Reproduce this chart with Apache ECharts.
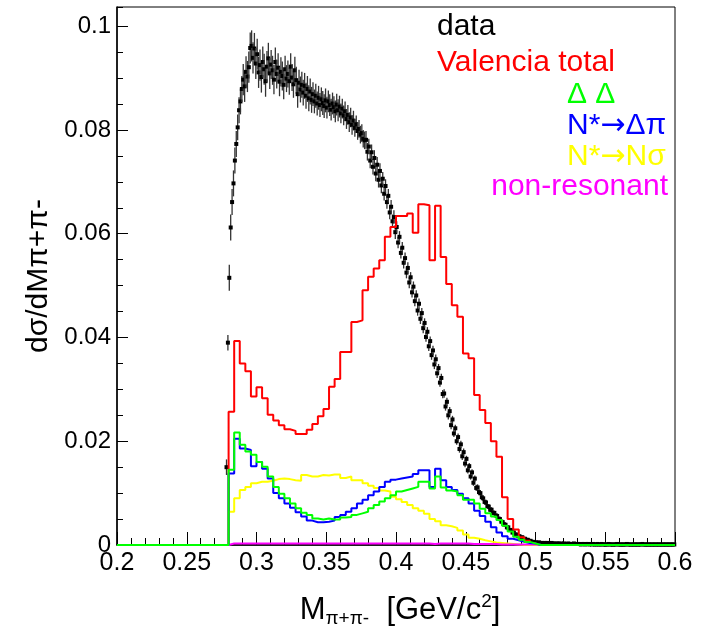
<!DOCTYPE html>
<html>
<head>
<meta charset="utf-8">
<script src="https://cdn.jsdelivr.net/npm/echarts@6/dist/echarts.min.js"></script>
<style>
html,body{margin:0;padding:0;background:#fff;}
#chart{width:704px;height:639px;}
</style>
</head>
<body>
<div id="chart"></div>
<script>
// ---------------- DATA ----------------
const xTickLabels = ['0.2','0.25','0.3','0.35','0.4','0.45','0.5','0.55','0.6'];
const yTickLabels = ['0','0.02','0.04','0.06','0.08','0.1'];

// histogram binning of the model curves (0.2 .. 0.6, 100 bins); model arrays start at bin 0.280
const histMin = 0.2, histMax = 0.6, histBins = 100, modelFirstBin = 20;

// Valencia total (red)
const valenciaTotal = [0.0257,0.0393,0.0350,0.0335,0.0286,0.0304,0.0283,0.0251,0.0240,0.0231,
 0.0223,0.0220,0.0214,0.0214,0.0222,0.0233,0.0248,0.0262,0.0305,0.0320,
 0.0372,0.0372,0.0430,0.0433,0.0491,0.0517,0.0533,0.0549,0.0594,0.0613,
 0.0634,0.0634,0.0639,0.0602,0.0657,0.0655,0.0549,0.0654,0.0555,0.0503,
 0.0462,0.0440,0.0369,0.0360,0.0289,0.0260,0.0235,0.0200,0.0170,0.0092,
 0.0050,0.0030,0.0015,0.0008,0.0004];
// Delta Delta (green)
const deltaDelta = [0.0145,0.0217,0.0193,0.0180,0.0174,0.0160,0.0151,0.0132,0.0112,0.0099,
 0.0090,0.0080,0.0071,0.0062,0.0058,0.0051,0.0049,0.0051,0.0049,0.0049,
 0.0053,0.0054,0.0058,0.0061,0.0064,0.0071,0.0077,0.0084,0.0090,0.0096,
 0.0103,0.0106,0.0109,0.0112,0.0122,0.0122,0.0109,0.0132,0.0111,0.0105,
 0.0103,0.0096,0.0087,0.0087,0.0080,0.0070,0.0061,0.0055,0.0048,0.0037,
 0.0026,0.0016,0.0010,0.0006,0.0003];
// N* -> Delta pi (blue)
const nStarDeltaPi = [0.0138,0.0205,0.0186,0.0183,0.0152,0.0160,0.0147,0.0128,0.0100,0.0090,
 0.0080,0.0072,0.0063,0.0055,0.0047,0.0044,0.0044,0.0045,0.0047,0.0054,
 0.0058,0.0064,0.0071,0.0080,0.0087,0.0096,0.0103,0.0112,0.0122,0.0126,
 0.0128,0.0130,0.0132,0.0137,0.0144,0.0144,0.0112,0.0147,0.0125,0.0112,
 0.0106,0.0099,0.0090,0.0080,0.0066,0.0056,0.0045,0.0034,0.0024,0.0017,
 0.0012,0.0009,0.0006,0.0004,0.0003];
// N* -> N sigma (yellow)
const nStarNSigma = [0.0064,0.0090,0.0106,0.0112,0.0119,0.0122,0.0122,0.0124,0.0127,0.0128,
 0.0127,0.0125,0.0124,0.0135,0.0132,0.0132,0.0135,0.0134,0.0136,0.0136,
 0.0129,0.0132,0.0125,0.0125,0.0119,0.0114,0.0110,0.0105,0.0103,0.0093,
 0.0088,0.0083,0.0077,0.0071,0.0066,0.0060,0.0050,0.0046,0.0038,0.0036,
 0.0033,0.0028,0.0020,0.0014,0.0012,0.0009,0.0007,0.0005,0.0004,0.0003,
 0.0002,0.0001,0,0,0];
// non-resonant (magenta)
const nonResonant = [0.0003,0.0003,0.0003,0.0003,0.0003,0.0003,0.0003,0.0003,0.0003,0.0003,
 0.0003,0.0003,0.0003,0.0003,0.0003,0.0003,0.0003,0.0003,0.0003,0.0003,
 0.0003,0.0003,0.0003,0.0003,0.0003,0.0003,0.0003,0.0003,0.0003,0.0003,
 0.0003,0.0003,0.0003,0.0003,0.0003,0.0003,0.0002,0.0003,0.0003,0.0003,
 0.0003,0.0003,0.0003,0.0002,0.0002,0.0002,0.0002,0.0002,0.0001,0.0001,
 0.0001,0.0001,0.0001,0.0001,0.0001];

// measured data, 0.001 wide bins, first bin centre 0.2785
const dataFirstCentre = 0.2785, dataBinWidth = 0.001;
const dataMain = [
0.0150,0.0390,0.0515,0.0612,0.0661,0.0697,0.0741,0.0773,0.0805,0.0838,
0.0855,0.0879,0.0897,0.0884,0.0912,0.0903,0.0921,0.0958,0.0962,0.0939,
0.0957,0.0928,0.0946,0.0911,0.0925,0.0902,0.0931,0.0917,0.0894,0.0922,
0.0938,0.0909,0.0926,0.0915,0.0897,0.0931,0.0908,0.0920,0.0893,0.0912,
0.0904,0.0887,0.0917,0.0899,0.0908,0.0894,0.0922,0.0901,0.0888,0.0915,
0.0896,0.0869,0.0891,0.0878,0.0887,0.0872,0.0885,0.0866,0.0879,0.0861,
0.0874,0.0858,0.0869,0.0855,0.0866,0.0851,0.0862,0.0848,0.0859,0.0852,
0.0846,0.0857,0.0843,0.0855,0.0848,0.0839,0.0851,0.0844,0.0836,0.0849,
0.0838,0.0845,0.0832,0.0841,0.0828,0.0836,0.0821,0.0829,0.0815,0.0824,
0.0810,0.0818,0.0804,0.0811,0.0798,0.0802,0.0791,0.0794,0.0783,0.0780,
0.0781,0.0758,0.0768,0.0741,0.0757,0.0729,0.0746,0.0716,0.0733,0.0704,
0.0721,0.0693,0.0706,0.0677,0.0692,0.0661,0.0673,0.0641,0.0652,0.0624,
0.0632,0.0603,0.0613,0.0583,0.0594,0.0563,0.0573,0.0544,0.0553,0.0525,
0.0534,0.0506,0.0516,0.0487,0.0498,0.0470,0.0481,0.0452,0.0465,0.0436,
0.0447,0.0418,0.0428,0.0401,0.0411,0.0383,0.0393,0.0366,0.0375,0.0348,
0.0358,0.0331,0.0341,0.0313,0.0322,0.0291,0.0292,0.0267,0.0276,0.0250,
0.0258,0.0231,0.0242,0.0215,0.0225,0.0200,0.0208,0.0185,0.0194,0.0171,
0.0179,0.0157,0.0166,0.0144,0.0152,0.0132,0.0140,0.0120,0.0128,0.0110,
0.0111,0.0102,0.0100,0.0092,0.0090,0.0083,0.0082,0.0075,0.0074,0.0068,
0.0068,0.0062,0.0062,0.0057,0.0056,0.0051,0.0050,0.0045,0.0044,0.0040,
0.0039,0.0034,0.0034,0.0029,0.0029,0.0024,0.0024,0.0020,0.0020,0.0017,
0.0017,0.0014,0.0015,0.0012,0.0012,0.0010,0.0010,0.0008,0.0008,0.0006,
0.0006,0.0005];
const dataTail = [
0.0005,0.0004,0.0005,0.0004,0.0004,0.0003,0.0004,0.0003,0.0004,0.0003,
0.0003,0.0004,0.0003,0.0003,0.0002,0.0003,0.0003,0.0002,0.0003,0.0002,
0.0003,0.0002,0.0002,0.0003,0.0002,0.0002,0.0002,0.0003,0.0002,0.0002,
0.0002,0.0002,0.0001,0.0002,0.0002,0.0001,0.0002,0.0002,0.0001,0.0002,
0.0001,0.0002,0.0001,0.0001,0.0002,0.0001,0.0001,0.0002,0.0001,0.0001,
0.0001,0.0001,0.0002,0.0001,0.0001,0.0001,0.0001,0.0001,0.0002,0.0001,
0.0001,0.0001,0.0001,0.0001,0.0001,0.0002,0.0001,0.0001,0.0001,0.0001,
0.0001,0.0001,0.0001,0.0001,0.0001,0.0001,0.0002,0.0001,0.0001,0.0001,
0.0001,0.0001,0.0001,0.0001,0.0001,0.0001,0.0001,0.0001,0.0001,0.0001,
0.0001,0.0001,0.0001,0.0001,0.0001,0.0001,0.0001,0.0001,0.0001,0.0001];
// statistical error of the data, per 0.01 wide segment starting at 0.27
const errSegStart = 0.27, errSegWidth = 0.01;
const dataErr = [0.0015,0.0025,0.0030,0.0030,0.0028,0.0026,0.0025,0.0023,0.0021,0.0019,
 0.0017,0.0015,0.0013,0.0011,0.0010,0.0009,0.0008,0.0007,0.0006,0.0005,
 0.0004,0.0004,0.0003,0.0003,0.0003,0.0002,0.0002,0.0002,0.0002,0.0002,
 0.0002,0.0002,0.0002,0.0002];

// ---------------- BUILD ----------------
const binW = (histMax - histMin) / histBins;
function histSeriesData(arr) {
  const pts = [];
  for (let k = 0; k < histBins; k++) {
    const j = k - modelFirstBin;
    const v = (j >= 0 && j < arr.length) ? arr[j] : 0;
    pts.push([histMin + k * binW, v]);
  }
  pts.push([histMax, pts[pts.length - 1][1]]);
  return pts;
}
const allData = dataMain.concat(dataTail);
const dataPts = allData.map((v, i) => {
  const x = dataFirstCentre + i * dataBinWidth;
  const seg = Math.min(dataErr.length - 1, Math.floor((x - errSegStart) / errSegWidth + 1e-9));
  return [x, v, dataErr[seg]];
});

const FONT = 'Liberation Sans';
function histSeries(name, arr, color) {
  return {
    name: name, type: 'line', step: 'end', data: histSeriesData(arr),
    symbol: 'none', clip: false, animation: false,
    lineStyle: { color: color, width: 2 }
  };
}
function legendRich(color) {
  return {
    a: { fontSize: 30, fontFamily: FONT, fill: color, color: color },
    r: { fontSize: 30, fontFamily: 'DejaVu Sans', fill: color, color: color }
  };
}

const chart = echarts.init(document.getElementById('chart'), null, { renderer: 'canvas' });
const option = {
  animation: false,
  backgroundColor: '#fff',
  grid: { left: 117, right: 29, top: 7, bottom: 94, show: true, borderColor: '#000', borderWidth: 1 },
  xAxis: [{
    type: 'value', min: 0.2, max: 0.6, interval: 0.05,
    axisLine: { show: true, lineStyle: { color: '#000', width: 1.5 } },
    axisTick: { show: true, inside: true, length: 13, lineStyle: { color: '#000' } },
    minorTick: { show: true, splitNumber: 5, length: 7, lineStyle: { color: '#000' } },
    splitLine: { show: false },
    axisLabel: {
      color: '#000', fontSize: 25, fontFamily: FONT, margin: 6,
      formatter: function (v) {
        const i = Math.round((v - 0.2) / 0.05);
        return Math.abs(v - (0.2 + i * 0.05)) < 1e-9 ? xTickLabels[i] : '';
      }
    },
    name: '{m|M}{s|π+π-}{n|  [GeV/c}{p|2}{n|]}',
    nameLocation: 'middle', nameGap: 47,
    nameTextStyle: {
      padding: [0, 0, 0, 8],
      rich: {
        m: { fontSize: 31, fontFamily: FONT, color: '#000', lineHeight: 36 },
        s: { fontSize: 19, fontFamily: FONT, color: '#000', verticalAlign: 'bottom', lineHeight: 36, padding: [12, 0, 0, 0] },
        n: { fontSize: 31, fontFamily: FONT, color: '#000', lineHeight: 36 },
        p: { fontSize: 19, fontFamily: FONT, color: '#000', verticalAlign: 'top', lineHeight: 36, padding: [0, 0, 12, 0] }
      }
    }
  }],
  yAxis: [{
    type: 'value', min: 0, max: 0.1037, interval: 0.02,
    axisLine: { show: true, lineStyle: { color: '#000', width: 1.5 } },
    axisTick: { show: true, inside: true, length: 11, lineStyle: { color: '#000' } },
    splitLine: { show: false },
    axisLabel: {
      color: '#000', fontSize: 24, fontFamily: FONT, margin: 6, showMaxLabel: false,
      formatter: function (v) {
        const i = Math.round(v / 0.02);
        return Math.abs(v - i * 0.02) < 1e-9 ? yTickLabels[i] : '';
      }
    },
    name: 'dσ/dMπ+π-', nameLocation: 'middle', nameGap: 54, nameRotate: 90,
    nameTextStyle: { fontSize: 30, fontFamily: FONT, color: '#000' }
  }, {
    type: 'value', min: 0, max: 0.1037, interval: 0.005, position: 'left',
    axisLine: { show: false },
    axisTick: { show: true, inside: true, length: 6, lineStyle: { color: '#000' } },
    axisLabel: { show: false }, splitLine: { show: false }
  }],
  series: [
    histSeries('Valencia total', valenciaTotal, '#ff0000'),
    histSeries('N*→Nσ', nStarNSigma, '#ffff00'),
    histSeries('non-resonant', nonResonant, '#ff00ff'),
    histSeries('N*→Δπ', nStarDeltaPi, '#0000ff'),
    histSeries('Δ Δ', deltaDelta, '#00ff00'),
    {
      name: 'data', type: 'custom', data: dataPts, animation: false,
      renderItem: function (params, api) {
        const x = api.value(0), y = api.value(1), e = api.value(2);
        const p = api.coord([x, y]);
        const hi = api.coord([x, y + e]);
        const lo = api.coord([x, Math.max(0, y - e)]);
        return {
          type: 'group', children: [
            { type: 'line', shape: { x1: p[0], y1: hi[1], x2: p[0], y2: lo[1] }, style: { stroke: '#333', lineWidth: 1.3 } },
            { type: 'rect', shape: { x: p[0] - 2, y: p[1] - 2, width: 4, height: 4 }, style: { fill: '#000' } }
          ]
        };
      }
    }
  ],
  graphic: [
    { type: 'text', x: 437, y: 27, style: { text: 'data', fill: '#000', font: '30px "Liberation Sans"', textAlign: 'left', textVerticalAlign: 'middle' } },
    { type: 'text', x: 437, y: 63, style: { text: 'Valencia total', fill: '#ff0000', font: '30px "Liberation Sans"', textAlign: 'left', textVerticalAlign: 'middle' } },
    { type: 'text', x: 567, y: 95, style: { text: 'Δ Δ', fill: '#00ff00', font: '30px "Liberation Sans"', textAlign: 'left', textVerticalAlign: 'middle' } },
    { type: 'text', x: 567, y: 126, style: { text: '{a|N*}{r|→}{a|Δπ}', rich: legendRich('#0000ff'), fill: '#0000ff', font: '30px "Liberation Sans"', textAlign: 'left', textVerticalAlign: 'middle' } },
    { type: 'text', x: 567, y: 157, style: { text: '{a|N*}{r|→}{a|Nσ}', rich: legendRich('#ffff00'), fill: '#ffff00', font: '30px "Liberation Sans"', textAlign: 'left', textVerticalAlign: 'middle' } },
    { type: 'text', x: 668, y: 187, style: { text: 'non-resonant', fill: '#ff00ff', font: '30px "Liberation Sans"', textAlign: 'right', textVerticalAlign: 'middle' } }
  ]
};
chart.setOption(option);
</script>
</body>
</html>
